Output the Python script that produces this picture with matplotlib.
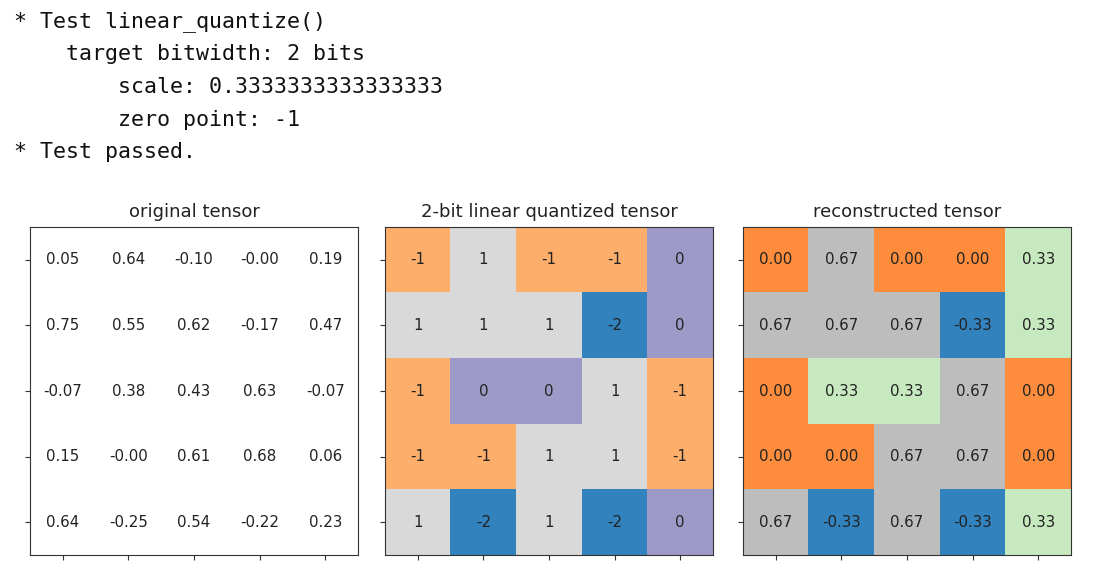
import numpy as np
import matplotlib
matplotlib.use('Agg')
import matplotlib.pyplot as plt
from matplotlib.colors import ListedColormap

# console output printed above the figure
log_lines = [
    "* Test linear_quantize()",
    "    target bitwidth: 2 bits",
    "        scale: 0.3333333333333333",
    "        zero point: -1",
    "* Test passed.",
]

original = np.array([
    [0.05, 0.64, -0.10, -0.0, 0.19],
    [0.75, 0.55, 0.62, -0.17, 0.47],
    [-0.07, 0.38, 0.43, 0.63, -0.07],
    [0.15, -0.0, 0.61, 0.68, 0.06],
    [0.64, -0.25, 0.54, -0.22, 0.23],
])
quantized = np.array([
    [-1, 1, -1, -1, 0],
    [1, 1, 1, -2, 0],
    [-1, 0, 0, 1, -1],
    [-1, -1, 1, 1, -1],
    [1, -2, 1, -2, 0],
])
reconstructed = np.array([
    [0.00, 0.67, 0.00, 0.00, 0.33],
    [0.67, 0.67, 0.67, -0.33, 0.33],
    [0.00, 0.33, 0.33, 0.67, 0.00],
    [0.00, 0.00, 0.67, 0.67, 0.00],
    [0.67, -0.33, 0.67, -0.33, 0.33],
])
real_min, real_max = -0.25, 0.75
q_min, q_max = -2, 1


def plot_matrix(tensor, ax, title, vmin, vmax, cmap, fmt):
    ax.imshow(tensor, vmin=vmin, vmax=vmax, cmap=cmap)
    ax.set_title(title, fontsize=13, color='#222222', pad=7)
    ax.set_xticks(range(tensor.shape[1]))
    ax.set_yticks(range(tensor.shape[0]))
    ax.set_xticklabels([])
    ax.set_yticklabels([])
    ax.tick_params(color='#333333')
    for s in ax.spines.values():
        s.set_edgecolor('#333333')
    for i in range(tensor.shape[0]):
        for j in range(tensor.shape[1]):
            ax.text(j, i, fmt.format(tensor[i, j]), ha='center', va='center',
                    color='#222222', fontsize=10.8)


fig = plt.figure(figsize=(10.97, 5.77), dpi=100)

for k, line in enumerate(log_lines):
    fig.text(14 / 1097, 1 - (22 + k * 32.5) / 577, line, family='DejaVu Sans Mono',
             fontsize=15.6, va='center', ha='left', color='#111111')

bottom = (577 - 555) / 577
h = 328 / 577
w = 330 / 1097
ax1 = fig.add_axes([29 / 1097, bottom, w, h])
ax2 = fig.add_axes([384 / 1097, bottom, w, h])
ax3 = fig.add_axes([742 / 1097, bottom, w, h])

plot_matrix(original, ax1, 'original tensor', real_min, real_max,
            ListedColormap(['white']), '{:.2f}')
plot_matrix(quantized, ax2, '2-bit linear quantized tensor', q_min, q_max,
            'tab20c', '{}')
plot_matrix(reconstructed, ax3, 'reconstructed tensor', real_min, real_max,
            'tab20c', '{:.2f}')

fig.savefig('out.png', dpi=100)
